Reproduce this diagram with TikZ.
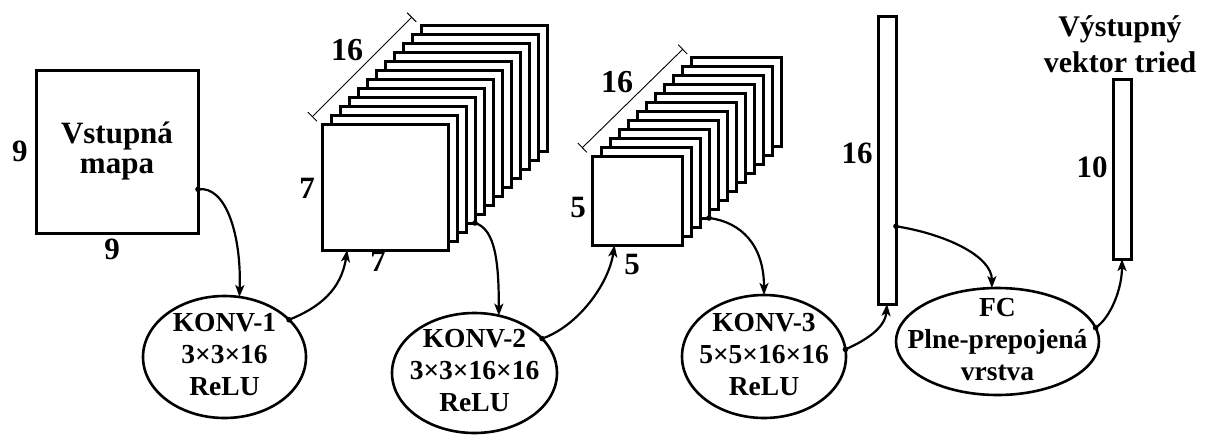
\documentclass[tikz,border=0pt]{standalone}
\usepackage{fontspec}
\setmainfont{Liberation Serif}
\usetikzlibrary{arrows.meta,shapes.geometric,calc}
\newcommand{\etext}[1]{\smash{\raisebox{-6.5pt}{\makebox[0pt]{\begin{tabular}{@{}c@{}}#1\end{tabular}}}}}
\tikzset{
  box/.style={rectangle, draw, line width=3pt, fill=white, inner sep=0pt, outer sep=0pt},
  layerA/.style={box, minimum width=126pt, minimum height=126pt},
  layerB/.style={box, minimum width=90pt, minimum height=89pt},
  ell/.style={ellipse, draw, line width=2.6pt, inner sep=0pt, outer sep=0pt, font=\fontsize{27.5}{32}\selectfont\bfseries},
  lbl/.style={font=\fontsize{31}{31}\selectfont\bfseries, inner sep=0pt},
  conn/.style={line width=2.2pt, -{Stealth[length=12pt,width=9pt,inset=3pt]}},
  dim/.style={line width=0.9pt, {Bar[width=13pt]}-{Bar[width=13pt]}},
  dot/.style={fill=black}
}
\begin{document}
\begin{tikzpicture}[x=1pt,y=-1pt]
\useasboundingbox (0,0) rectangle (1207,434);

% input map
\node[box, minimum width=162pt, minimum height=163pt, align=center,
      font=\fontsize{31}{30}\selectfont\bfseries] (in) at (117,151.5) {Vstupná\\mapa};
\node[lbl] (in9l) at (20,151) {9};
\node[lbl] (in9b) at (112,249) {9};

% stack 1
\foreach \i in {11,10,...,0}{
  \node[layerA] (s1l\i) at ({385+9*\i},{187-9*\i}) {};
}
\draw[dim] ($(s1l0.north west)+(-10,-7)$) -- ($(s1l11.north west)+(-9,-8)$);
\node[lbl, font=\fontsize{32}{32}\selectfont\bfseries] (s1d) at (347,50) {16};
\node[lbl] (s17l) at (307,188) {7};
\node[lbl] (s17b) at (378,261) {7};

% stack 2
\foreach \i in {11,10,...,0}{
  \node[layerB] (s2l\i) at ({637+9*\i},{200.5-9*\i}) {};
}
\draw[dim] ($(s2l0.north west)+(-10,-8)$) -- ($(s2l11.north west)+(-8,-8)$);
\node[lbl, font=\fontsize{32}{32}\selectfont\bfseries] (s2d) at (617,82) {16};
\node[lbl] (s25l) at (578,207) {5};
\node[lbl] (s25b) at (632,264) {5};

% vectors
\node[box, minimum width=18pt, minimum height=288pt] (v1) at (887,160) {};
\node[lbl] (v1l) at (857,153) {16};
\node[box, minimum width=18pt, minimum height=180pt] (v2) at (1122,169) {};
\node[lbl] (v2l) at (1092,167) {10};
\node[lbl, align=center, font=\fontsize{30}{36}\selectfont\bfseries] (title) at (1120,44) {Výstupný\\vektor tried};

% ellipses
\node[ell, minimum width=163pt, minimum height=122pt] (k1) at (224.5,357) {\etext{KONV-1\\3×3×16\\ReLU}};
\node[ell, minimum width=165pt, minimum height=120pt] (k2) at (474.5,373) {\etext{KONV-2\\3×3×16×16\\ReLU}};
\node[ell, minimum width=164pt, minimum height=123pt] (k3) at (764,356.5) {\etext{KONV-3\\5×5×16×16\\ReLU}};
\node[ell, minimum width=203pt, minimum height=107pt] (fc) at (997.5,341.5) {\etext{FC\\Plne-prepojená\\vrstva}};

% connectors
\coordinate (a1s) at (in.-25);
\coordinate (a2e) at ($(s1l0.south west)!0.2!(s1l0.south east)$);
\coordinate (a4e) at ($(s2l0.south west)!0.25!(s2l0.south east)$);
\coordinate (a7s) at ($(v1.south east)!0.27!(v1.north east)$);

\draw[conn] (a1s) .. controls +(28,-4) and +(2,-62) .. (k1.76);
\fill[dot] (a1s) circle (2.8pt);
\draw[conn] (k1.30) .. controls +(30,-12) and +(-6,40) .. (a2e);
\fill[dot] (k1.30) circle (2.8pt);
\draw[conn] (s1l3.south east) .. controls +(20,6) and +(0,-55) .. (k2.67);
\fill[dot] (s1l3.south east) circle (2.8pt);
\draw[conn] (k2.27) .. controls +(35,-12) and +(-6,40) .. (a4e);
\fill[dot] (k2.27) circle (2.8pt);
\draw[conn] (s2l3.south east) .. controls +(32,4) and +(0,-50) .. (k3.north);
\fill[dot] (s2l3.south east) circle (2.8pt);
\draw[conn] (k3.5) .. controls +(18,-8) and +(-2,25) .. (v1.south);
\fill[dot] (k3.5) circle (2.8pt);
\draw[conn] (a7s) .. controls +(50,8) and +(0,-32) .. (fc.96);
\fill[dot] (a7s) circle (2.8pt);
\draw[conn] (fc.8) .. controls +(15,-10) and +(0,30) .. (v2.south);
\fill[dot] (fc.8) circle (2.8pt);
\end{tikzpicture}
\end{document}
